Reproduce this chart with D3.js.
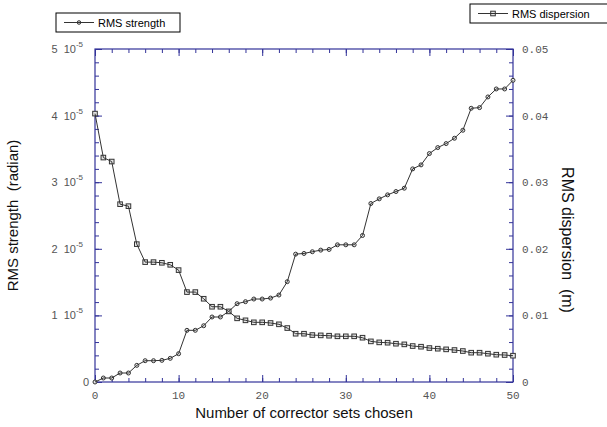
<!DOCTYPE html>
<html>
<head>
<meta charset="UTF-8">
<title>RMS strength and dispersion</title>
<script src="https://d3js.org/d3.v7.min.js"></script>
<style>
body { margin: 0; background: #fff; }
svg { display: block; }
text { white-space: pre; }
</style>
</head>
<body>
<svg id="chart" width="607" height="427"></svg>
<script>
// corrector sets chosen (0..50)
const sets = d3.range(0, 51);
// RMS strength, units of 1e-5 rad
const strength = [0, 0.06, 0.06, 0.135, 0.135, 0.25, 0.32, 0.32, 0.325, 0.355,
  0.425, 0.776, 0.776, 0.845, 0.976, 0.976, 1.06, 1.176, 1.206, 1.246,
  1.246, 1.26, 1.306, 1.506, 1.92, 1.93, 1.956, 1.98, 1.99, 2.06,
  2.06, 2.06, 2.2, 2.68, 2.75, 2.81, 2.86, 2.91, 3.20, 3.26,
  3.43, 3.52, 3.58, 3.66, 3.78, 4.11, 4.12, 4.28, 4.40, 4.40, 4.53];
// RMS dispersion, m
const dispersion = [0.0403, 0.0337, 0.0331, 0.0267, 0.0264, 0.0207, 0.0180, 0.0180, 0.0179, 0.0176,
  0.0168, 0.0135, 0.0135, 0.0125, 0.0113, 0.0113, 0.0106, 0.00956, 0.00926, 0.00896,
  0.00896, 0.00886, 0.00866, 0.0081, 0.00725, 0.00725, 0.00705, 0.0070, 0.00695, 0.00686,
  0.00686, 0.00686, 0.00665, 0.0061, 0.00595, 0.0059, 0.00575, 0.00565, 0.0054, 0.0053,
  0.0051, 0.0050, 0.0049, 0.0048, 0.00465, 0.0044, 0.0044, 0.00425, 0.0041, 0.00405, 0.00395];

const xTicks = [0, 10, 20, 30, 40, 50];
const leftTicks = [0, 1, 2, 3, 4, 5];
const rightTicks = [0, 0.01, 0.02, 0.03, 0.04, 0.05];
const rightTickLabels = ["0", "0.01", "0.02", "0.03", "0.04", "0.05"];

const margin = {left: 95, right: 94, top: 49, bottom: 45};
const W = 607, H = 427;
const axisColor = "#333399";
const labelColor = "#555";
const markColor = "#333";

const svg = d3.select("#chart");

const x = d3.scaleLinear().domain([0, 50]).range([margin.left, W - margin.right]);
const yL = d3.scaleLinear().domain([0, 5]).range([H - margin.bottom, margin.top]);
const yR = d3.scaleLinear().domain([0, 0.05]).range([H - margin.bottom, margin.top]);

// frame
svg.append("rect")
  .attr("x", x(0)).attr("y", yL(5))
  .attr("width", x(50) - x(0)).attr("height", yL(0) - yL(5))
  .attr("fill", "none").attr("stroke", axisColor).attr("stroke-width", 1.2);

function ticksOnly(g, axis) {
  g.call(axis);
  g.select(".domain").remove();
  g.selectAll("text").remove();
  g.selectAll("line").attr("stroke", axisColor);
}

// bottom / top
svg.append("g").attr("transform", `translate(0,${yL(0)})`)
  .call(g => ticksOnly(g, d3.axisBottom(x).tickValues(d3.range(0, 51, 2)).tickSize(-4)));
svg.append("g").attr("transform", `translate(0,${yL(0)})`)
  .call(g => ticksOnly(g, d3.axisBottom(x).tickValues(xTicks).tickSize(-7)));
svg.append("g").attr("transform", `translate(0,${yL(5)})`)
  .call(g => ticksOnly(g, d3.axisTop(x).tickValues(d3.range(0, 51, 2)).tickSize(-4)));
svg.append("g").attr("transform", `translate(0,${yL(5)})`)
  .call(g => ticksOnly(g, d3.axisTop(x).tickValues(xTicks).tickSize(-7)));
// left / right
svg.append("g").attr("transform", `translate(${x(0)},0)`)
  .call(g => ticksOnly(g, d3.axisLeft(yL).tickValues(d3.range(0, 5.01, 0.2)).tickSize(-4)));
svg.append("g").attr("transform", `translate(${x(0)},0)`)
  .call(g => ticksOnly(g, d3.axisLeft(yL).tickValues(leftTicks).tickSize(-7)));
svg.append("g").attr("transform", `translate(${x(50)},0)`)
  .call(g => ticksOnly(g, d3.axisRight(yR).tickValues(d3.range(0, 0.0501, 0.002)).tickSize(-4)));
svg.append("g").attr("transform", `translate(${x(50)},0)`)
  .call(g => ticksOnly(g, d3.axisRight(yR).tickValues(rightTicks).tickSize(-7)));

// tick labels
svg.append("g").selectAll("text").data(xTicks).join("text")
  .attr("x", d => x(d)).attr("y", yL(0) + 17)
  .attr("text-anchor", "middle")
  .attr("font-family", "Liberation Mono, DejaVu Sans Mono, monospace")
  .attr("font-size", 11).attr("fill", labelColor)
  .text(d => d);

svg.append("g").selectAll("text").data(rightTicks).join("text")
  .attr("x", x(50) + 9).attr("y", d => yR(d) + 4)
  .attr("font-family", "Liberation Mono, DejaVu Sans Mono, monospace")
  .attr("font-size", 11).attr("fill", labelColor)
  .text((d, i) => rightTickLabels[i]);

const leftLab = svg.append("g").selectAll("text").data(leftTicks).join("text")
  .attr("x", x(0) - 12).attr("y", d => yL(d) + 4)
  .attr("text-anchor", "end")
  .attr("font-family", "Liberation Sans, Arial, sans-serif")
  .attr("font-size", 11).attr("fill", labelColor);
leftLab.each(function(d) {
  const t = d3.select(this);
  if (d === 0) { t.attr("x", x(0) - 6).text("0"); return; }
  t.append("tspan").text(d + "  10");
  t.append("tspan").attr("dy", -6).attr("font-size", 8).text("-5");
});

// axis titles
svg.append("text")
  .attr("transform", `translate(18,${(yL(0) + yL(5)) / 2}) rotate(-90)`)
  .attr("text-anchor", "middle")
  .attr("font-family", "Liberation Sans, Arial, sans-serif")
  .attr("font-size", 15).attr("fill", "#111")
  .text("RMS strength  (radian)");
svg.append("text")
  .attr("transform", `translate(562,240) rotate(90)`)
  .attr("text-anchor", "middle")
  .attr("font-family", "Liberation Sans, Arial, sans-serif")
  .attr("font-size", 16).attr("fill", "#111")
  .text("RMS dispersion  (m)");
svg.append("text")
  .attr("x", (x(0) + x(50)) / 2).attr("y", 418)
  .attr("text-anchor", "middle")
  .attr("font-family", "Liberation Sans, Arial, sans-serif")
  .attr("font-size", 15).attr("fill", "#111")
  .text("Number of corrector sets chosen");

// series
const lineS = d3.line().x((d, i) => x(sets[i])).y(d => yL(d));
const lineD = d3.line().x((d, i) => x(sets[i])).y(d => yR(d));

svg.append("g").selectAll("circle").data(strength).join("circle")
  .attr("cx", (d, i) => x(sets[i])).attr("cy", d => yL(d)).attr("r", 2)
  .attr("fill", "#e6e6e6").attr("stroke", markColor).attr("stroke-width", 1);

function squareMark(g, cx, cy) {
  g.append("rect").attr("x", cx - 2.3).attr("y", cy - 2.3)
    .attr("width", 4.6).attr("height", 4.6)
    .attr("fill", "#e6e6e6").attr("stroke", markColor).attr("stroke-width", 1);
}
const sq = svg.append("g");
dispersion.forEach((d, i) => squareMark(sq, x(sets[i]), yR(d)));

svg.append("path").datum(strength).attr("d", lineS)
  .attr("fill", "none").attr("stroke", markColor).attr("stroke-width", 1);
svg.append("path").datum(dispersion).attr("d", lineD)
  .attr("fill", "none").attr("stroke", markColor).attr("stroke-width", 1);

// legends
function legend(lx, ly, w, label, kind) {
  const g = svg.append("g");
  g.append("rect").attr("x", lx).attr("y", ly).attr("width", w).attr("height", 19)
    .attr("fill", "#fff").attr("stroke", "#000").attr("stroke-width", 1);
  const my = ly + 9.5;
  if (kind === "circle") {
    g.append("circle").attr("cx", lx + 23).attr("cy", my).attr("r", 1.8)
      .attr("fill", "#e6e6e6").attr("stroke", markColor);
  } else {
    squareMark(g, lx + 23, my);
  }
  g.append("line").attr("x1", lx + 8).attr("x2", lx + 38).attr("y1", my).attr("y2", my)
    .attr("stroke", markColor);
  g.append("text").attr("x", lx + 42).attr("y", my + 4)
    .attr("font-family", "Liberation Sans, Arial, sans-serif")
    .attr("font-size", 11).attr("fill", "#000").text(label);
}
legend(56, 13, 124, "RMS strength", "circle");
legend(470, 4, 140, "RMS dispersion", "square");
</script>
</body>
</html>
